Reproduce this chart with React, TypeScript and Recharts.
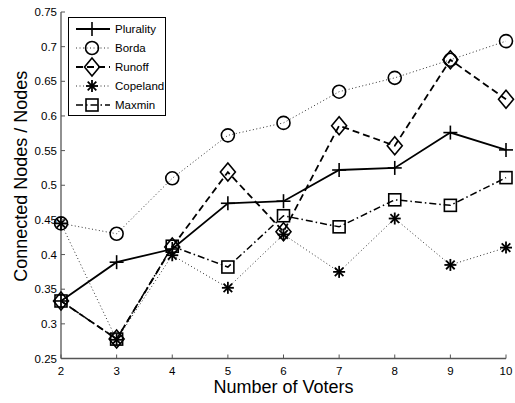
import { LineChart, Line, XAxis, YAxis, Legend, Label } from 'recharts';

const voters = [2, 3, 4, 5, 6, 7, 8, 9, 10];
const plurality = [0.333, 0.389, 0.408, 0.474, 0.477, 0.522, 0.525, 0.576, 0.551];
const borda = [0.445, 0.43, 0.51, 0.572, 0.59, 0.635, 0.655, 0.681, 0.708];
const runoff = [0.333, 0.278, 0.411, 0.519, 0.433, 0.586, 0.557, 0.681, 0.624];
const copeland = [0.445, 0.277, 0.399, 0.352, 0.429, 0.375, 0.452, 0.385, 0.41];
const maxmin = [0.333, 0.278, 0.412, 0.382, 0.456, 0.44, 0.479, 0.471, 0.511];
const yTicks = [0.25, 0.3, 0.35, 0.4, 0.45, 0.5, 0.55, 0.6, 0.65, 0.7, 0.75];

const FONT = '"Liberation Sans", Arial, Helvetica, sans-serif';

type Kind = 'plus' | 'circle' | 'diamond' | 'star' | 'square';

const series: { key: string; name: string; values: number[]; kind: Kind; dash?: string; width: number; color: string }[] = [
  { key: 'plurality', name: 'Plurality', values: plurality, kind: 'plus', width: 1.8, color: '#000' },
  { key: 'borda', name: 'Borda', values: borda, kind: 'circle', dash: '1 2.5', width: 1, color: '#333' },
  { key: 'runoff', name: 'Runoff', values: runoff, kind: 'diamond', dash: '7 4', width: 1.8, color: '#000' },
  { key: 'copeland', name: 'Copeland', values: copeland, kind: 'star', dash: '1 2.5', width: 1, color: '#333' },
  { key: 'maxmin', name: 'Maxmin', values: maxmin, kind: 'square', dash: '7 3 1.5 3', width: 1.5, color: '#000' },
];

const data = voters.map((v, i) => {
  const row: Record<string, number> = { voters: v };
  series.forEach((s) => (row[s.key] = s.values[i]));
  return row;
});

function Marker({ kind, cx, cy }: { kind: Kind; cx: number; cy: number }) {
  const st = { stroke: '#000', strokeWidth: 1.6, fill: 'none' };
  if (kind === 'plus')
    return (
      <g {...st}>
        <line x1={cx - 7} x2={cx + 7} y1={cy} y2={cy} />
        <line x1={cx} x2={cx} y1={cy - 7} y2={cy + 7} />
      </g>
    );
  if (kind === 'circle') return <circle cx={cx} cy={cy} r={6.5} {...st} />;
  if (kind === 'diamond')
    return <polygon points={`${cx},${cy - 9} ${cx + 7.5},${cy} ${cx},${cy + 9} ${cx - 7.5},${cy}`} {...st} />;
  if (kind === 'square') return <rect x={cx - 6} y={cy - 6} width={12} height={12} {...st} />;
  return (
    <g stroke="#000" strokeWidth={1.8}>
      <line x1={cx - 6} x2={cx + 6} y1={cy} y2={cy} />
      <line x1={cx} x2={cx} y1={cy - 6} y2={cy + 6} />
      <line x1={cx - 4.3} x2={cx + 4.3} y1={cy - 4.3} y2={cy + 4.3} />
      <line x1={cx - 4.3} x2={cx + 4.3} y1={cy + 4.3} y2={cy - 4.3} />
    </g>
  );
}

function LegendBox() {
  return (
    <svg width={98} height={99} style={{ display: 'block' }}>
      <rect x={0.5} y={0.5} width={97} height={98} fill="#fff" stroke="#000" />
      {series.map((s, i) => {
        const y = 12 + i * 19;
        return (
          <g key={s.key}>
            <line x1={8} x2={42} y1={y} y2={y} stroke={s.color} strokeWidth={s.width} strokeDasharray={s.dash} />
            <Marker kind={s.kind} cx={24} cy={y} />
            <text x={47} y={y} dy="0.36em" fontSize={11.5} fontFamily={FONT} fill="#000">
              {s.name}
            </text>
          </g>
        );
      })}
    </svg>
  );
}

const fmt = (v: number) => String(Number(v.toFixed(2)));

function YTick(props: any) {
  const { x, y, payload } = props;
  const ax = x + 4;
  return (
    <g>
      <line x1={ax} x2={ax + 4} y1={y} y2={y} stroke="#555" />
      <text x={x} y={y} dy="0.36em" textAnchor="end" fontSize={11.5} fontFamily={FONT} fill="#000">
        {fmt(payload.value)}
      </text>
    </g>
  );
}

function XTick(props: any) {
  const { x, y, payload } = props;
  const ay = y - 8;
  return (
    <g>
      <line x1={x} x2={x} y1={ay} y2={ay - 4} stroke="#555" />
      <text x={x} y={y} dy="0.71em" textAnchor="middle" fontSize={11.5} fontFamily={FONT} fill="#000">
        {payload.value}
      </text>
    </g>
  );
}

export default function App() {
  return (
    <div style={{ position: 'absolute', left: 0, top: 0, background: '#fff' }}>
      <LineChart width={515} height={403} data={data} margin={{ top: 12, right: 9, bottom: 10.5, left: 21 }}>
        <XAxis
          dataKey="voters"
          type="number"
          domain={[2, 10]}
          ticks={voters}
          height={34}
          tickSize={0}
          tickMargin={8}
          tick={<XTick />}
          axisLine={{ stroke: '#555', strokeWidth: 1.3 }}
        >
          <Label value="Number of Voters" position="insideBottom" offset={0} fontSize={18} fontFamily={FONT} fill="#000" />
        </XAxis>
        <YAxis
          type="number"
          domain={[0.25, 0.75]}
          ticks={yTicks}
          width={40}
          tickSize={0}
          tickMargin={4}
          tick={<YTick />}
          axisLine={{ stroke: '#555', strokeWidth: 1.3 }}
        >
          <Label
            content={({ viewBox }: any) => {
              const x = viewBox.x + 6;
              const y = viewBox.y + viewBox.height / 2 - 9;
              return (
                <text x={x} y={y} transform={`rotate(-90 ${x} ${y})`} textAnchor="middle" fontSize={18} fontFamily={FONT} fill="#000">
                  Connected Nodes / Nodes
                </text>
              );
            }}
          />
        </YAxis>
        <Legend
          layout="vertical"
          align="center"
          verticalAlign="middle"
          content={() => <LegendBox />}
          wrapperStyle={{ position: 'absolute', left: 68, top: 17, width: 98, height: 99 }}
        />
        {series.map((s) => (
          <Line
            key={s.key}
            dataKey={s.key}
            name={s.name}
            stroke={s.color}
            strokeWidth={s.width}
            strokeDasharray={s.dash}
            isAnimationActive={false}
            activeDot={false}
            dot={(p: any) => <Marker key={`${s.key}-${p.index}`} kind={s.kind} cx={p.cx} cy={p.cy} />}
          />
        ))}
      </LineChart>
    </div>
  );
}
